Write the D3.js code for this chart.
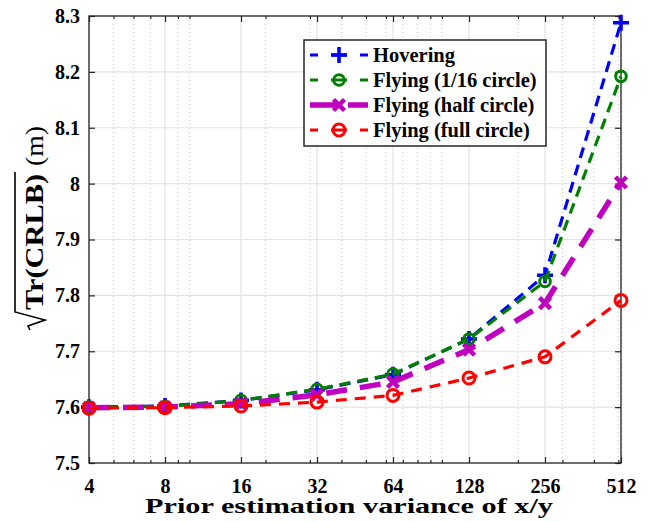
<!DOCTYPE html>
<html>
<head>
<meta charset="utf-8">
<script src="https://cdn.jsdelivr.net/npm/d3@7"></script>
<style>
body { margin: 0; background: #fff; }
</style>
</head>
<body>
<div id="chart"></div>
<script>
//Values
const variance = [4, 8, 16, 32, 64, 128, 256, 512];
const hovering = [7.600, 7.602, 7.612, 7.631, 7.658, 7.722, 7.836, 8.288];
const flying16 = [7.600, 7.601, 7.612, 7.632, 7.659, 7.722, 7.825, 8.192];
const flyingHalf = [7.599, 7.600, 7.606, 7.622, 7.645, 7.703, 7.786, 8.002];
const flyingFull = [7.598, 7.599, 7.602, 7.609, 7.621, 7.652, 7.690, 7.791];
const yTicks = [7.5, 7.6, 7.7, 7.8, 7.9, 8, 8.1, 8.2, 8.3];
const xMinor = [5, 6, 7, 9, 10, 20, 30, 40, 50, 60, 70, 80, 90, 100, 200, 300, 400, 500];
const seriesNames = ['Hovering', 'Flying (1/16 circle)', 'Flying (half circle)', 'Flying (full circle)'];

const WIDTH = 655;
const HEIGHT = 522;
const LEFT = 89, RIGHT = 621, TOP = 16, BOTTOM = 463;
const FONT = 'Liberation Serif';

let svg = d3.select('#chart')
.append('svg')
.attr('width', WIDTH)
.attr('height', HEIGHT)
.attr('font-family', FONT);

const x = d3.scaleLog().base(2).domain([4, 512]).range([LEFT, RIGHT]);
const y = d3.scaleLinear().domain([7.5, 8.3]).range([BOTTOM, TOP]);

//grid
svg.append('g')
.selectAll()
.data(xMinor)
.enter()
.append('line')
.attr('x1', d => x(d)).attr('x2', d => x(d))
.attr('y1', TOP).attr('y2', BOTTOM)
.style('stroke', '#c8c8c8')
.style('stroke-width', 1)
.style('stroke-dasharray', '1,3');

svg.append('g')
.selectAll()
.data(variance)
.enter()
.append('line')
.attr('x1', d => x(d)).attr('x2', d => x(d))
.attr('y1', TOP).attr('y2', BOTTOM)
.style('stroke', '#e3e3e3')
.style('stroke-width', 1.2);

svg.append('g')
.selectAll()
.data(yTicks)
.enter()
.append('line')
.attr('x1', LEFT).attr('x2', RIGHT)
.attr('y1', d => y(d)).attr('y2', d => y(d))
.style('stroke', '#e3e3e3')
.style('stroke-width', 1.2);

//axes
function styleAxis(g) {
    g.attr('font-family', FONT).attr('font-size', 20);
    g.select('.domain').remove();
    g.selectAll('line').style('stroke', '#262626').style('stroke-width', 1.2);
    g.selectAll('text').attr('font-family', FONT).attr('font-weight', 'bold')
    .attr('font-size', 20).attr('fill', '#000');
}

function noLabels(g) {
    g.select('.domain').remove();
    g.selectAll('text').remove();
    g.selectAll('line').style('stroke', '#262626').style('stroke-width', 1.2);
}

svg.append('g')
.attr('transform', `translate(0,${BOTTOM})`)
.call(d3.axisBottom(x).tickValues(variance).tickSize(-6).tickPadding(16).tickFormat(d3.format('d')))
.call(styleAxis);

svg.append('g')
.attr('transform', `translate(0,${BOTTOM})`)
.call(d3.axisBottom(x).tickValues(xMinor).tickSize(-3))
.call(noLabels);

svg.append('g')
.attr('transform', `translate(0,${TOP})`)
.call(d3.axisTop(x).tickValues(variance).tickSize(-6))
.call(noLabels);

svg.append('g')
.attr('transform', `translate(0,${TOP})`)
.call(d3.axisTop(x).tickValues(xMinor).tickSize(-3))
.call(noLabels);

svg.append('g')
.attr('transform', `translate(${LEFT},0)`)
.call(d3.axisLeft(y).tickValues(yTicks).tickSize(-6).tickPadding(9).tickFormat(d => d3.format('.1f')(d).replace('.0', '')))
.call(styleAxis);

svg.append('g')
.attr('transform', `translate(${RIGHT},0)`)
.call(d3.axisRight(y).tickValues(yTicks).tickSize(-6))
.call(noLabels);

svg.append('rect')
.attr('x', LEFT).attr('y', TOP)
.attr('width', RIGHT - LEFT).attr('height', BOTTOM - TOP)
.style('fill', 'none')
.style('stroke', '#262626')
.style('stroke-width', 1.3);

//series
const series = [
    { name: seriesNames[0], values: hovering, colour: '#0000ff', width: 3.2, dash: '11,7', marker: 'plus' },
    { name: seriesNames[1], values: flying16, colour: '#008000', width: 3.2, dash: '11,7', marker: 'circle', r: 5.3 },
    { name: seriesNames[2], values: flyingHalf, colour: '#bf00bf', width: 5.5, dash: '21,13', marker: 'cross' },
    { name: seriesNames[3], values: flyingFull, colour: '#ff0000', width: 3.2, dash: '11,8', marker: 'circle', r: 6 }
];

const line = d3.line()
.x(d => x(d[0]))
.y(d => y(d[1]));

function drawMarker(g, cx, cy, s) {
    if (s.marker == 'plus') {
        g.append('path')
        .attr('d', `M${cx - 8},${cy}H${cx + 8}M${cx},${cy - 8}V${cy + 8}`)
        .style('stroke', s.colour).style('stroke-width', 3.6).style('fill', 'none');
    }
    else if (s.marker == 'cross') {
        g.append('path')
        .attr('d', `M${cx - 5.5},${cy - 5.5}L${cx + 5.5},${cy + 5.5}M${cx - 5.5},${cy + 5.5}L${cx + 5.5},${cy - 5.5}`)
        .style('stroke', s.colour).style('stroke-width', 4.5).style('fill', 'none');
    }
    else {
        g.append('circle')
        .attr('cx', cx).attr('cy', cy).attr('r', s.r)
        .style('stroke', s.colour).style('stroke-width', 3).style('fill', 'none');
    }
}

series.forEach(function (s) {
    let pts = variance.map((v, i) => [v, s.values[i]]);
    let g = svg.append('g');
    g.append('path')
    .attr('d', line(pts))
    .style('fill', 'none')
    .style('stroke', s.colour)
    .style('stroke-width', s.width)
    .style('stroke-dasharray', s.dash);
    pts.forEach(p => drawMarker(g, x(p[0]), y(p[1]), s));
});

//legend
let legend = svg.append('g');
legend.append('rect')
.attr('x', 304).attr('y', 40)
.attr('width', 242).attr('height', 106)
.style('fill', '#fff')
.style('stroke', '#262626')
.style('stroke-width', 1.5);

series.forEach(function (s, i) {
    let ly = 55 + i * 25;
    legend.append('line')
    .attr('x1', 310).attr('x2', 368)
    .attr('y1', ly).attr('y2', ly)
    .style('stroke', s.colour)
    .style('stroke-width', s.width)
    .style('stroke-dasharray', i == 2 ? '28,10,20' : '8,13,16,13');
    drawMarker(legend, 339, ly, s);
    legend.append('text')
    .attr('x', 373).attr('y', ly + 7)
    .attr('font-family', FONT)
    .attr('font-weight', 'bold')
    .attr('font-size', 20.5)
    .attr('fill', '#000')
    .text(s.name);
});

//axis labels
svg.append('text')
.attr('x', 145)
.attr('y', 513)
.attr('textLength', 408)
.attr('lengthAdjust', 'spacingAndGlyphs')
.attr('font-family', FONT)
.attr('font-weight', 'bold')
.attr('font-size', 22)
.attr('fill', '#000')
.text('Prior estimation variance of x/y');

let ylab = svg.append('g')
.attr('transform', 'translate(43,330) rotate(-90)');

ylab.append('path')
.attr('d', 'M0,-13 L4,-15 L10,2 L18,-28 L158,-28')
.style('fill', 'none')
.style('stroke', '#000')
.style('stroke-width', 1.6);

ylab.append('text')
.attr('x', 20).attr('y', 0)
.attr('textLength', 136)
.attr('lengthAdjust', 'spacingAndGlyphs')
.attr('font-family', FONT)
.attr('font-weight', 'bold')
.attr('font-size', 26)
.attr('fill', '#000')
.text('Tr(CRLB)');

ylab.append('text')
.attr('x', 164).attr('y', 0)
.attr('textLength', 40)
.attr('lengthAdjust', 'spacingAndGlyphs')
.attr('font-family', FONT)
.attr('font-size', 25)
.attr('fill', '#000')
.text('(m)');
</script>
</body>
</html>
